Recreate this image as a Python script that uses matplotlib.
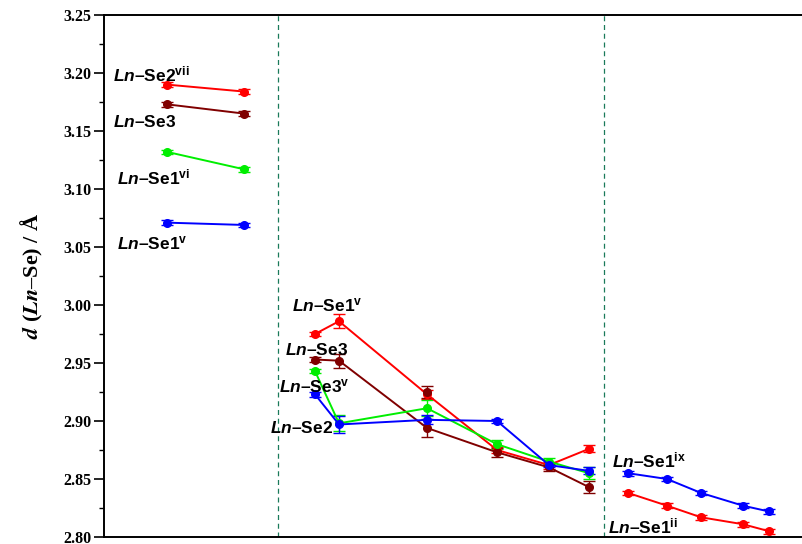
#!/usr/bin/env python3
"""Ln-Se bond distances across three structure groups."""
import matplotlib
matplotlib.use("Agg")
import matplotlib.pyplot as plt
import numpy as np

plt.rcParams['mathtext.fontset'] = 'custom'
plt.rcParams['mathtext.it'] = 'Liberation Sans:italic:bold'
plt.rcParams['mathtext.rm'] = 'Liberation Sans:bold'
plt.rcParams['mathtext.bf'] = 'Liberation Sans:bold'

# x positions (arbitrary units along the horizontal axis)
x_left = [63, 140]
x_mid = [211, 235, 323, 393, 445, 485]
x_right = [524, 563, 597, 639, 665]
x_dividers = [174, 500]

# group 1 (left)
left_se2vii = [3.190, 3.184]
left_se3 = [3.173, 3.165]
left_se1vi = [3.132, 3.117]
left_se1v = [3.071, 3.069]
left_err = [0.002, 0.002]

# group 2 (middle)
mid_se1v = [2.975, 2.986, 2.923, 2.875, 2.862, 2.876]
mid_se1v_err = [0.002, 0.006, 0.004, 0.003, 0.003, 0.003]
mid_se3 = [2.953, 2.952, 2.894, 2.873, 2.860, 2.843]
mid_se3_err = [0.002, 0.006, 0.008, 0.004, 0.003, 0.005]
mid_se3v = [2.943, 2.898, 2.911, 2.880, 2.865, 2.855]
mid_se3v_err = [0.002, 0.007, 0.007, 0.004, 0.003, 0.005]
mid_se2 = [2.923, 2.897, 2.901, 2.900, 2.862, 2.857]
mid_se2_err = [0.002, 0.007, 0.004, 0.002, 0.002, 0.003]
# the third Se1v point is drawn in dark red in the original
mid_odd_idx = 2
mid_odd_err = 0.005

# group 3 (right)
right_se1ix = [2.855, 2.850, 2.838, 2.827, 2.822]
right_se1ii = [2.838, 2.827, 2.817, 2.811, 2.805]
right_err = [0.002, 0.002, 0.002, 0.002, 0.002]

RED = '#ff0000'
DARKRED = '#800000'
GREEN = '#00ee00'
BLUE = '#0000ff'

fig = plt.figure(figsize=(8.02, 5.44), dpi=100)
ax = fig.add_axes([104 / 802, 1 - 537 / 544, 698 / 802, 522 / 544])


def series(x, y, err, color):
    ax.errorbar(x, y, yerr=err, color=color, marker='o', markersize=5.5,
                linewidth=1.4, elinewidth=1.0, capsize=4, capthick=1.0)


series(x_left, left_se2vii, left_err, RED)
series(x_left, left_se3, left_err, DARKRED)
series(x_left, left_se1vi, left_err, GREEN)
series(x_left, left_se1v, left_err, BLUE)

series(x_mid, mid_se1v, mid_se1v_err, RED)
series(x_mid, mid_se3, mid_se3_err, DARKRED)
series(x_mid, mid_se3v, mid_se3v_err, GREEN)
series(x_mid, mid_se2, mid_se2_err, BLUE)
ax.errorbar([x_mid[mid_odd_idx]], [mid_se1v[mid_odd_idx] + 0.002], yerr=mid_odd_err,
            color=DARKRED, marker='o', markersize=5.5, capsize=4, elinewidth=1.0)

series(x_right, right_se1ix, right_err, BLUE)
series(x_right, right_se1ii, right_err, RED)

for xd in x_dividers:
    ax.axvline(xd, color='#1a7a5a', linestyle=(0, (4, 3)), linewidth=0.9)

# labels
lab_kw = dict(fontsize=12.5, fontweight='bold', family='Liberation Sans',
              va='center', ha='left')
labels = [
    (9, 3.199, r'$\mathit{Ln}$–Se2$^{\mathrm{vii}}$'),
    (9, 3.158, r'$\mathit{Ln}$–Se3'),
    (13, 3.110, r'$\mathit{Ln}$–Se1$^{\mathrm{vi}}$'),
    (13, 3.053, r'$\mathit{Ln}$–Se1$^{\mathrm{v}}$'),
    (188, 3.000, r'$\mathit{Ln}$–Se1$^{\mathrm{v}}$'),
    (181, 2.961, r'$\mathit{Ln}$–Se3'),
    (175, 2.930, r'$\mathit{Ln}$–Se3$^{\mathrm{v}}$'),
    (166, 2.894, r'$\mathit{Ln}$–Se2'),
    (508, 2.866, r'$\mathit{Ln}$–Se1$^{\mathrm{ix}}$'),
    (504, 2.809, r'$\mathit{Ln}$–Se1$^{\mathrm{ii}}$'),
]
for lx, ly, txt in labels:
    ax.text(lx, ly, txt, **lab_kw)

ax.set_xlim(0, 698)
ax.set_ylim(2.80, 3.25)
ax.set_yticks(np.arange(2.80, 3.2501, 0.05))
ax.set_yticks(np.arange(2.825, 3.25, 0.05), minor=True)
ax.yaxis.set_major_formatter(matplotlib.ticker.FormatStrFormatter('%.2f'))
ax.set_xticks([])
for lab in ax.get_yticklabels():
    lab.set_family('Liberation Serif')
    lab.set_fontweight('bold')
    lab.set_fontsize(11.5)
ax.tick_params(axis='y', which='major', direction='out', length=7, width=1.2, pad=2)
ax.tick_params(axis='y', which='minor', direction='out', length=3.5, width=1.0)

ax.spines['right'].set_visible(False)
for s in ('left', 'bottom', 'top'):
    ax.spines[s].set_linewidth(1.4)

ax.set_ylabel(r'$\mathbfit{d}$ ($\mathbfit{Ln}$–Se) / Å', fontsize=16,
              family='Liberation Serif', fontweight='bold', math_fontfamily='stix')
ax.yaxis.set_label_coords(-0.085, 0.5)

fig.savefig('out.png', dpi=100, facecolor='white')
plt.close(fig)
